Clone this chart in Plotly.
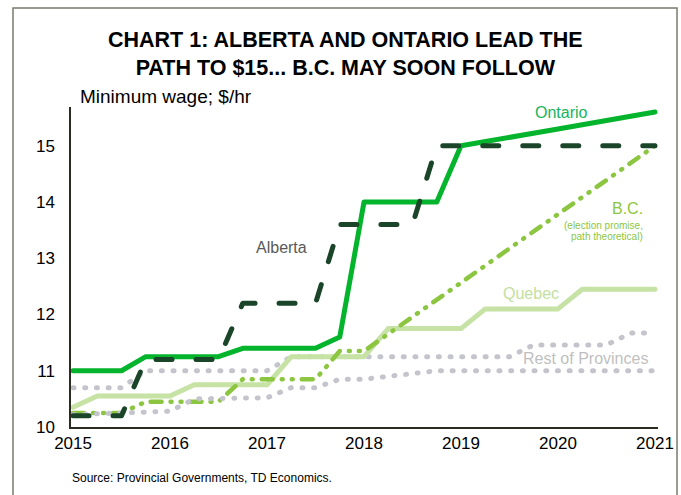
import plotly.graph_objects as go

# ---- data ----
years = [2015, 2016, 2017, 2018, 2019, 2020, 2021]
year_labels = ["2015", "2016", "2017", "2018", "2019", "2020", "2021"]
y_ticks = [10, 11, 12, 13, 14, 15]

ontario_x = [2015.0, 2015.5, 2015.75, 2016.5, 2016.75, 2017.5, 2017.75, 2018.0, 2018.75, 2019.0, 2020.0, 2021.0]
ontario_y = [11.0, 11.0, 11.25, 11.25, 11.4, 11.4, 11.6, 14.0, 14.0, 15.0, 15.3, 15.6]

alberta_x = [2015.0, 2015.5, 2015.75, 2016.5, 2016.75, 2017.5, 2017.75, 2018.5, 2018.75, 2021.0]
alberta_y = [10.2, 10.2, 11.2, 11.2, 12.2, 12.2, 13.6, 13.6, 15.0, 15.0]

quebec_x = [2015.0, 2015.25, 2016.0, 2016.25, 2017.0, 2017.25, 2018.0, 2018.25, 2019.0, 2019.25, 2020.0, 2020.25, 2021.0]
quebec_y = [10.35, 10.55, 10.55, 10.75, 10.75, 11.25, 11.25, 11.75, 11.75, 12.1, 12.1, 12.45, 12.45]

bc_x = [2015.0, 2015.5, 2015.75, 2016.5, 2016.75, 2017.5, 2017.75, 2018.0, 2021.0]
bc_y = [10.25, 10.25, 10.45, 10.45, 10.85, 10.85, 11.35, 11.35, 15.0]

rest_upper_x = [2015.0, 2015.5, 2015.75, 2017.0, 2017.25, 2019.5, 2019.75, 2020.5, 2020.75, 2021.0]
rest_upper_y = [10.7, 10.7, 11.0, 11.0, 11.25, 11.25, 11.46, 11.46, 11.67, 11.67]

rest_lower_x = [2015.0, 2016.0, 2016.25, 2017.0, 2017.25, 2017.5, 2017.75, 2018.0, 2018.25, 2018.5, 2018.75, 2021.0]
rest_lower_y = [10.22, 10.28, 10.5, 10.52, 10.7, 10.7, 10.85, 10.85, 10.9, 10.95, 11.0, 11.0]

# ---- styles ----
FONT = "Liberation Sans, Arial, sans-serif"
C_ON = "#05b42d"
C_AB = "#1a4528"
C_BC = "#8cc641"
C_QC = "#c6e2a4"
C_RP = "#c4c4cc"
AXIS = "#2b2b1f"

fig = go.Figure()

def add(x, y, color, width, dash="solid"):
    fig.add_trace(go.Scatter(x=x, y=y, mode="lines", hoverinfo="skip",
                             line=dict(color=color, width=width, dash=dash)))

add(rest_upper_x, rest_upper_y, C_RP, 5, "1px,10.7px")
add(quebec_x, quebec_y, C_QC, 5)
add(bc_x, bc_y, C_BC, 4.5, "11px,9px,1px,9px,1px,9px")
add(rest_lower_x, rest_lower_y, C_RP, 5, "1px,10.7px")
add(ontario_x, ontario_y, C_ON, 5)
add(alberta_x, alberta_y, C_AB, 5, "16px,24px")

ann = []
def label(x, y, text, color, size=16, xanchor="center", xref="x", yref="y"):
    ann.append(dict(x=x, y=y, xref=xref, yref=yref, text=text, showarrow=False,
                    xanchor=xanchor, yanchor="middle",
                    font=dict(family=FONT, size=size, color=color)))

label(2020.04, 15.59, "Ontario", "#17b45a")
label(2017.15, 13.19, "Alberta", "#595959")
label(2020.72, 13.88, "B.C.", C_BC)
label(2020.90, 13.58, "(election promise,", C_BC, size=10, xanchor="right")
label(2020.90, 13.38, "path theoretical)", C_BC, size=10, xanchor="right")
label(2019.72, 12.38, "Quebec", "#c3e09f")
label(2020.28, 11.21, "Rest of Provinces", "#bfbfbf")
label(0.0119, 1.034, "Minimum wage; $/hr", "#000000", size=19, xanchor="left", xref="paper", yref="paper")
label(-0.002, -0.159, "Source: Provincial Governments, TD Economics.", "#000000", size=12, xanchor="left", xref="paper", yref="paper")
ann.append(dict(x=0.4668, y=1.1656, xref="paper", yref="paper", showarrow=False,
                xanchor="center", yanchor="middle", align="center",
                text="<b>CHART 1: ALBERTA AND ONTARIO LEAD THE<br>PATH TO $15... B.C. MAY SOON FOLLOW</b>",
                font=dict(family=FONT, size=21.5, color="#000000")))

fig.update_layout(
    width=681, height=495,
    margin=dict(l=71, r=23, t=107, b=68),
    paper_bgcolor="white", plot_bgcolor="white",
    showlegend=False,
    annotations=ann,
    font=dict(family=FONT, color="#000000"),
    xaxis=dict(range=[2014.979, 2021.031], tickvals=years, ticktext=year_labels,
               showgrid=False, zeroline=False, showline=True, linecolor=AXIS, linewidth=1.5,
               ticks="", automargin=False, tickfont=dict(size=17, family=FONT, color="#000000")),
    yaxis=dict(range=[10, 15.69], tickvals=y_ticks, showgrid=False, zeroline=False,
               showline=True, linecolor=AXIS, linewidth=1.5, ticks="", automargin=False,
               ticklabelstandoff=11,
               tickfont=dict(size=17, family=FONT, color="#000000")),
    shapes=[dict(type="rect", xref="paper", yref="paper", x0=-0.0988, x1=1.0324,
                 y0=-0.25, y1=1.309, line=dict(color="#7a7a6e", width=1.5), layer="below")],
)

post = """
document.body.style.margin='0';
document.querySelectorAll('.scatterlayer .js-line').forEach(function(p){
  p.style.strokeLinecap='round'; p.style.strokeLinejoin='round';
});
"""
fig.write_html("out.html", post_script=post, config={"displayModeBar": False})
